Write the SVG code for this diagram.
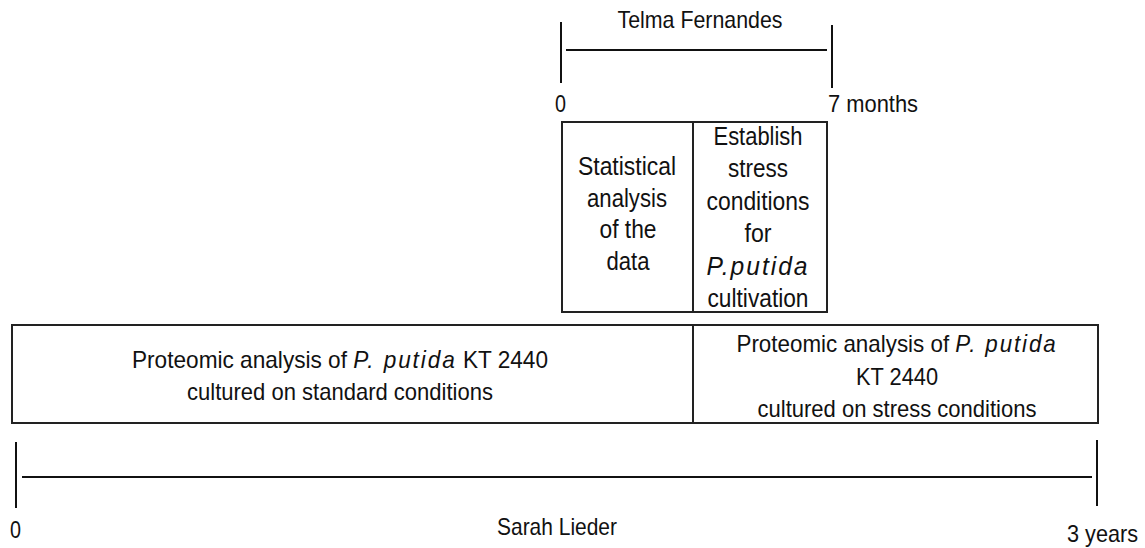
<svg xmlns="http://www.w3.org/2000/svg" width="1145" height="548" viewBox="0 0 1145 548">
<style>
text{font-family:"Liberation Sans",Arial,sans-serif;fill:#111;}
.t{font-size:24px;}
.b{font-size:25px;}
.c{text-anchor:middle;}
.i{font-style:italic;letter-spacing:2px;}
.ln{stroke:#111;stroke-width:2;fill:none;}
.box{stroke:#222;stroke-width:2;fill:#fff;}
</style>
<rect width="1145" height="548" fill="#fff"/>
<g id="connectors">
<g id="timeline-telma">
<line class="ln" x1="561" y1="22" x2="561" y2="83"/>
<line class="ln" x1="566" y1="50" x2="827" y2="50"/>
<line class="ln" x1="832" y1="25" x2="832" y2="88"/>
</g>
<g id="timeline-sarah">
<line class="ln" x1="16" y1="442" x2="16" y2="508"/>
<line class="ln" x1="22" y1="477" x2="1092" y2="477"/>
<line class="ln" x1="1097" y1="440" x2="1097" y2="506"/>
</g>
</g>
<g id="labels">
<text class="t c" x="700" y="28" textLength="165" lengthAdjust="spacingAndGlyphs">Telma Fernandes</text>
<text class="t" x="555" y="112" textLength="11" lengthAdjust="spacingAndGlyphs">0</text>
<text class="t" x="828" y="112" textLength="90" lengthAdjust="spacingAndGlyphs">7 months</text>
<text class="t" x="10" y="538" textLength="11" lengthAdjust="spacingAndGlyphs">0</text>
<text class="t c" x="557" y="535" textLength="120" lengthAdjust="spacingAndGlyphs">Sarah Lieder</text>
<text class="t" x="1067" y="542" textLength="71" lengthAdjust="spacingAndGlyphs">3 years</text>
</g>
<g id="node-stat">
<rect class="box" x="562" y="122" width="131" height="190"/>
<text class="b c" x="627" y="175" textLength="98" lengthAdjust="spacingAndGlyphs">Statistical</text>
<text class="b c" x="627" y="207" textLength="80" lengthAdjust="spacingAndGlyphs">analysis</text>
<text class="b c" x="628" y="238" textLength="57" lengthAdjust="spacingAndGlyphs">of the</text>
<text class="b c" x="628" y="270" textLength="43" lengthAdjust="spacingAndGlyphs">data</text>
</g>
<g id="node-stress">
<rect class="box" x="693" y="122" width="134" height="190"/>
<text class="b c" x="758" y="145" textLength="89" lengthAdjust="spacingAndGlyphs">Establish</text>
<text class="b c" x="758" y="177" textLength="60" lengthAdjust="spacingAndGlyphs">stress</text>
<text class="b c" x="758" y="210" textLength="103" lengthAdjust="spacingAndGlyphs">conditions</text>
<text class="b c" x="758" y="242" textLength="27" lengthAdjust="spacingAndGlyphs">for</text>
<text class="b c" x="758" y="275" textLength="103" lengthAdjust="spacingAndGlyphs"><tspan class="i">P.putida</tspan></text>
<text class="b c" x="758" y="307" textLength="101" lengthAdjust="spacingAndGlyphs">cultivation</text>
</g>
<g id="node-standard">
<rect class="box" x="12" y="325" width="681" height="98"/>
<text class="t c" x="340" y="368" textLength="416" lengthAdjust="spacingAndGlyphs">Proteomic analysis of <tspan class="i">P. putida</tspan> KT 2440</text>
<text class="t c" x="340" y="400" textLength="306" lengthAdjust="spacingAndGlyphs">cultured on standard conditions</text>
</g>
<g id="node-stressculture">
<rect class="box" x="693" y="325" width="405" height="98"/>
<text class="t c" x="897" y="352" textLength="321" lengthAdjust="spacingAndGlyphs">Proteomic analysis of <tspan class="i">P. putida</tspan></text>
<text class="t c" x="897" y="385" textLength="82" lengthAdjust="spacingAndGlyphs">KT 2440</text>
<text class="t c" x="897" y="417" textLength="279" lengthAdjust="spacingAndGlyphs">cultured on stress conditions</text>
</g>
</svg>
